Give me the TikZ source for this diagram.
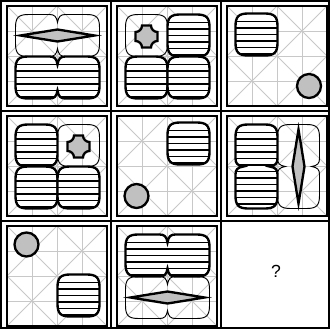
\documentclass[tikz,border=0pt]{standalone}
\usepackage{fontspec}
\setsansfont{Liberation Sans}
\definecolor{guidegray}{RGB}{200,200,200}
\definecolor{tokengray}{RGB}{192,192,192}
\tikzset{
  cellline/.style={draw=black,line width=1.7pt},
  panel/.style={draw=black,line width=1.2pt},
  guide/.style={draw=guidegray,line width=0.8pt},
  bold/.style={draw=black,line width=2pt},
  faint/.style={draw=black,line width=0.8pt},
  hatch/.style={draw=black,line width=1.1pt},
  token/.style={bold,fill=tokengray}
}
% shapes, drawn round the origin in pixel units
\newcommand{\squircle}{(-21,0) -- (-21,-8) .. controls (-21,-18) and (-18,-21) .. (-8,-21) -- (8,-21) .. controls (18,-21) and (21,-18) .. (21,-8) -- (21,8) .. controls (21,18) and (18,21) .. (8,21) -- (-8,21) .. controls (-18,21) and (-21,18) .. (-21,8) -- cycle}
\newcommand{\twinblob}{(-42,0) -- (-42,-8) .. controls (-42,-18) and (-39,-21) .. (-29,-21) -- (-8,-21) .. controls (-3,-21) and (-1,-19) .. (0,-13) .. controls (1,-19) and (3,-21) .. (8,-21) -- (29,-21) .. controls (39,-21) and (42,-18) .. (42,-8) -- (42,8) .. controls (42,18) and (39,21) .. (29,21) -- (8,21) .. controls (3,21) and (1,19) .. (0,13) .. controls (-1,19) and (-3,21) .. (-8,21) -- (-29,21) .. controls (-39,21) and (-42,18) .. (-42,8) -- cycle}
\newcommand{\rhomb}{(-37,0) -- (0,-6) -- (37,0) -- (0,6) -- cycle}
\newcommand{\cushion}{(-4.5,-11) -- (4.5,-11) .. controls (4.5,-7.4) and (7.4,-4.5) .. (11,-4.5) -- (11,4.5) .. controls (7.4,4.5) and (4.5,7.4) .. (4.5,11) -- (-4.5,11) .. controls (-4.5,7.4) and (-7.4,4.5) .. (-11,4.5) -- (-11,-4.5) .. controls (-7.4,-4.5) and (-4.5,-7.4) .. (-4.5,-11) -- cycle}
% #1 shape, #2 placement, #3 top edge of the shape
\newcommand{\hatched}[3]{%
  \fill[white,#2] #1;
  \begin{scope}
    \clip[#2] #1;
    \foreach \k in {0,...,12}
      \draw[hatch] (-10,{#3+8+6.5*\k}) -- (110,{#3+8+6.5*\k});
  \end{scope}
  \draw[bold,#2] #1;}

\begin{document}
\begin{tikzpicture}[x=0.03cm,y=-0.03cm]
\useasboundingbox (0,0) rectangle (330,332);

% guide lattice in every panel
\foreach \px/\py in {7/6,117/6,227/6,7/116,117/116,227/116,7/226,117/226}{
  \begin{scope}[shift={(\px,\py)}]
    \foreach \g in {25,50,75}{
      \draw[guide] (\g,0) -- (\g,100);
      \draw[guide] (0,\g) -- (100,\g);
    }
    \draw[guide] (0,0) -- (100,100) (100,0) -- (0,100);
    \draw[guide] (50,0) -- (100,50) -- (50,100) -- (0,50) -- cycle;
  \end{scope}
}

% row 1
\begin{scope}[shift={(7,6)}]
  \draw[faint,shift={(50.5,29.5)}] \twinblob;
  \draw[token,shift={(50.5,29.5)}] \rhomb;
  \hatched{\twinblob}{shift={(50.5,71.5)}}{50.5}
\end{scope}
\begin{scope}[shift={(117,6)}]
  \draw[faint,shift={(29.5,29.5)}] \squircle;
  \draw[token,shift={(29.5,30.5)}] \cushion;
  \hatched{\squircle}{shift={(71.5,29.5)}}{8.5}
  \hatched{\squircle}{shift={(29.5,71.5)}}{50.5}
  \hatched{\squircle}{shift={(71.5,71.5)}}{50.5}
\end{scope}
\begin{scope}[shift={(227,6)}]
  \hatched{\squircle}{shift={(29.5,28.5)}}{7.5}
  \draw[token] (82,80) circle (12);
\end{scope}

% row 2
\begin{scope}[shift={(7,116)}]
  \draw[faint,shift={(71.5,29.5)}] \squircle;
  \draw[token,shift={(71.5,30.5)}] \cushion;
  \hatched{\squircle}{shift={(29.5,29.5)}}{8.5}
  \hatched{\squircle}{shift={(29.5,71.5)}}{50.5}
  \hatched{\squircle}{shift={(71.5,71.5)}}{50.5}
\end{scope}
\begin{scope}[shift={(117,116)}]
  \hatched{\squircle}{shift={(71.5,27.5)}}{6.5}
  \draw[token] (19.5,80) circle (12);
\end{scope}
\begin{scope}[shift={(227,116)}]
  \draw[faint,shift={(71.5,50.5)},rotate=90] \twinblob;
  \draw[token,shift={(71.5,50.5)},rotate=90] \rhomb;
  \hatched{\twinblob}{shift={(29.5,50.5)},rotate=90}{8.5}
\end{scope}

% row 3
\begin{scope}[shift={(7,226)}]
  \draw[token] (19.5,18.5) circle (12);
  \hatched{\squircle}{shift={(71.5,69.5)}}{48.5}
\end{scope}
\begin{scope}[shift={(117,226)}]
  \draw[faint,shift={(50.5,71.5)}] \twinblob;
  \draw[token,shift={(50.5,71.5)}] \rhomb;
  \hatched{\twinblob}{shift={(50.5,29.5)}}{8.5}
\end{scope}

% panel frames
\foreach \px/\py in {7/6,117/6,227/6,7/116,117/116,227/116,7/226,117/226}
  \draw[panel] (\px,\py) rectangle ++(100,100);

% outer cells
\draw[cellline] (1,1) rectangle (329,328);
\draw[cellline] (111,1) -- (111,328) (221,1) -- (221,328);
\draw[cellline] (1,111) -- (329,111) (1,221) -- (329,221);

\node[font=\sffamily\fontsize{15}{17}\selectfont] (q) at (276,271) {?};
\end{tikzpicture}
\end{document}
